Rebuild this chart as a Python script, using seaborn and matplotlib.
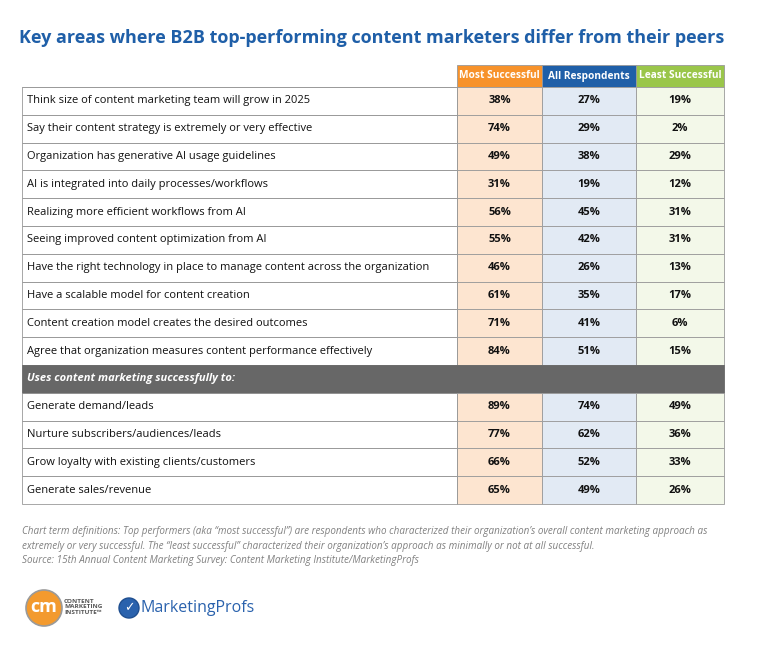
import matplotlib
matplotlib.use("Agg")
import matplotlib.pyplot as plt
from matplotlib.patches import Rectangle, Circle
import seaborn as sns

sns.set_theme(style="white")
plt.rcParams["font.family"] = ["Open Sans", "DejaVu Sans"]

# ── Data ──────────────────────────────────────────────────────────────────────
TITLE = "Key areas where B2B top-performing content marketers differ from their peers"
COLUMNS = ["Most Successful", "All Respondents", "Least Successful"]
ITEMS_A = [
    "Think size of content marketing team will grow in 2025",
    "Say their content strategy is extremely or very effective",
    "Organization has generative AI usage guidelines",
    "AI is integrated into daily processes/workflows",
    "Realizing more efficient workflows from AI",
    "Seeing improved content optimization from AI",
    "Have the right technology in place to manage content across the organization",
    "Have a scalable model for content creation",
    "Content creation model creates the desired outcomes",
    "Agree that organization measures content performance effectively",
]
MOST_A = [38, 74, 49, 31, 56, 55, 46, 61, 71, 84]
ALL_A = [27, 29, 38, 19, 45, 42, 26, 35, 41, 51]
LEAST_A = [19, 2, 29, 12, 31, 31, 13, 17, 6, 15]
SECTION = "Uses content marketing successfully to:"
ITEMS_B = [
    "Generate demand/leads",
    "Nurture subscribers/audiences/leads",
    "Grow loyalty with existing clients/customers",
    "Generate sales/revenue",
]
MOST_B = [89, 77, 66, 65]
ALL_B = [74, 62, 52, 49]
LEAST_B = [49, 36, 33, 26]
NOTE = ("Chart term definitions: Top performers (aka \u201cmost successful\u201d) are respondents who characterized their organization\u2019s overall content marketing approach as\n"
        "extremely or very successful. The \u201cleast successful\u201d characterized their organization\u2019s approach as minimally or not at all successful.\n"
        "Source: 15th Annual Content Marketing Survey: Content Marketing Institute/MarketingProfs")

HEAD_COLORS = ["#f7922a", "#1f5fa8", "#9ac64a"]
CELL_COLORS = ["#fde5d0", "#e2eaf4", "#f3f8e9"]
EDGES = [22, 457, 542, 636, 724]
HEAD_TOP, HEAD_H, ROW_H = 65, 22, 27.8

fig = plt.figure(figsize=(7.68, 6.58), dpi=100)
ax = fig.add_axes([0, 0, 1, 1])
ax.set_xlim(0, 768)
ax.set_ylim(658, 0)
ax.axis("off")

ax.text(372, 38, TITLE, ha="center", va="center", fontsize=13,
        fontweight="bold", color="#1f5fa8")

# header
for i, name in enumerate(COLUMNS):
    x0, x1 = EDGES[i + 1], EDGES[i + 2]
    ax.add_patch(Rectangle((x0, HEAD_TOP), x1 - x0, HEAD_H, fc=HEAD_COLORS[i], ec="#999999", lw=0.6))
    ax.text((x0 + x1) / 2, HEAD_TOP + HEAD_H / 2, name, ha="center", va="center",
            fontsize=7.3, fontweight="bold", color="white")
ax.plot([EDGES[0], EDGES[1]], [HEAD_TOP + HEAD_H] * 2, color="#999999", lw=0.6)


def draw_row(y, label, vals):
    for i, v in enumerate(vals):
        x0, x1 = EDGES[i + 1], EDGES[i + 2]
        ax.add_patch(Rectangle((x0, y), x1 - x0, ROW_H, fc=CELL_COLORS[i], ec="#999999", lw=0.6))
        ax.text((x0 + x1) / 2, y + ROW_H / 2, f"{v}%", ha="center", va="center",
                fontsize=8, fontweight="bold", color="#111111")
    ax.add_patch(Rectangle((EDGES[0], y), EDGES[1] - EDGES[0], ROW_H, fc="none", ec="#999999", lw=0.6))
    ax.text(EDGES[0] + 5, y + ROW_H / 2, label, ha="left", va="center", fontsize=8, color="#111111")


y = HEAD_TOP + HEAD_H
for lab, vals in zip(ITEMS_A, zip(MOST_A, ALL_A, LEAST_A)):
    draw_row(y, lab, vals)
    y += ROW_H
ax.add_patch(Rectangle((EDGES[0], y), EDGES[-1] - EDGES[0], ROW_H, fc="#676767", ec="#676767", lw=0.6))
ax.text(EDGES[0] + 5, y + ROW_H / 2, SECTION, ha="left", va="center", fontsize=8,
        fontweight="bold", fontstyle="italic", color="white")
y += ROW_H
for lab, vals in zip(ITEMS_B, zip(MOST_B, ALL_B, LEAST_B)):
    draw_row(y, lab, vals)
    y += ROW_H

ax.text(EDGES[0], 546, NOTE, ha="left", va="center", fontsize=7.1, fontstyle="italic",
        color="#808080", linespacing=1.45)

# logos
ax.add_patch(Circle((44, 608), 18, fc="#f39a2e", ec="#9a9a9a", lw=1.2))
ax.text(44, 607, "cm", ha="center", va="center", fontsize=13, fontweight="bold", color="white")
ax.text(64, 607, "CONTENT\nMARKETING\nINSTITUTE\u2122", ha="left", va="center", fontsize=4.6,
        fontweight="bold", color="#555555", linespacing=1.1)
ax.add_patch(Circle((129, 608), 10, fc="#2a62ad", ec="#1f4f90", lw=1))
ax.text(129, 608, "\u2713", ha="center", va="center", fontsize=9, fontweight="bold", color="white",
        family=["DejaVu Sans"])
ax.text(141, 608, "MarketingProfs", ha="left", va="center", fontsize=11.5, color="#2a62ad")

fig.savefig("out.png", dpi=100)
